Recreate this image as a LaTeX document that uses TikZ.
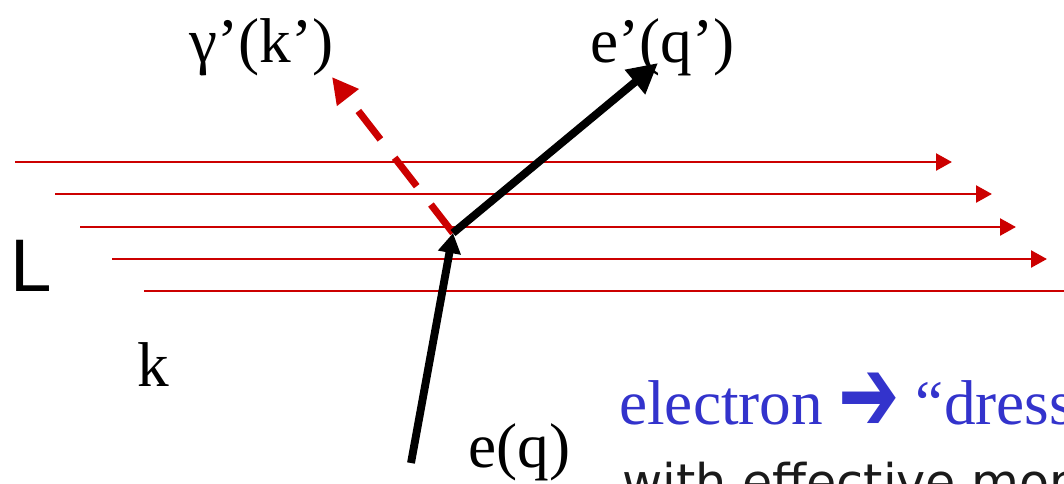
\documentclass[tikz,border=0pt]{standalone}
\usepackage{fontspec}
\setmainfont{Liberation Serif}
\newfontfamily\labelsans{Liberation Sans}
\newfontfamily\notesans{DejaVu Sans}
\newfontfamily\arrowfont{DejaVu Sans}
\usetikzlibrary{arrows.meta}
\definecolor{laserred}{HTML}{CC0000}
\definecolor{dressblue}{HTML}{3333CC}
\definecolor{notegray}{HTML}{1A1A1A}
\tikzset{
  laser/.style={draw=laserred, line width=2.1pt, -{Triangle[length=4mm, width=4.2mm]}},
  electron/.style={draw=black, line width=5.6pt, -{Triangle[length=7.5mm, width=7.5mm]}},
  incoming/.style={draw=black, line width=5.6pt, -{Triangle[length=5mm, width=5.5mm]}},
  photon/.style={draw=laserred, line width=5pt, dash pattern=on 9mm off 5.8mm, -{Triangle[length=6.5mm, width=6.5mm]}},
  tag/.style={anchor=base west, inner sep=0pt, font=\fontsize{45}{54}\selectfont},
  notetext/.style={anchor=base west, inner sep=0pt}
}

\begin{document}
\begin{tikzpicture}[x=0.025cm, y=-0.025cm]
  \useasboundingbox (0,0) rectangle (1064,483);
  \clip (0,0) rectangle (1064,483);

  % laser lines
  \foreach \i/\xs/\xe/\yy in {1/15/952/162, 2/55/992/194, 3/80/1016/227, 4/112/1047/259, 5/144/1090/291}{
    \coordinate (ls\i) at (\xs,\yy);
    \coordinate (le\i) at (\xe,\yy);
    \draw[laser] (ls\i) -- (le\i);
  }

  % vertex and particles
  \coordinate (vtx) at (453,233);
  \coordinate (ein) at (411,463);
  \coordinate (eout) at (658,63);
  \coordinate (gout) at (332,77);

  \draw[photon] (vtx) -- (gout);
  \draw[incoming] (ein) -- (vtx);
  \draw[electron] (vtx) -- (eout);

  % labels
  \node[tag] (gam) at (189,62) {γ’(k’)};
  \node[tag] (eprime) at (590,62) {e’(q’)};
  \node[tag] (kk) at (137,386) {k};
  \node[tag] (eq) at (468,467) {e(q)};
  \node[notetext, font=\labelsans\fontsize{53}{60}\selectfont] (ll) at (10,291) {L};

  \node[notetext, text=dressblue, font=\fontsize{45}{54}\selectfont] (dress) at (619,424)
    {electron {\arrowfont\fontsize{52}{52}\selectfont\raisebox{-5pt}{\scalebox{1}[1.45]{➔}}} “dress};
  \node[notetext, text=notegray, font=\notesans\fontsize{35}{42}\selectfont] (eff) at (622,499)
    {with effective mom};
\end{tikzpicture}
\end{document}
